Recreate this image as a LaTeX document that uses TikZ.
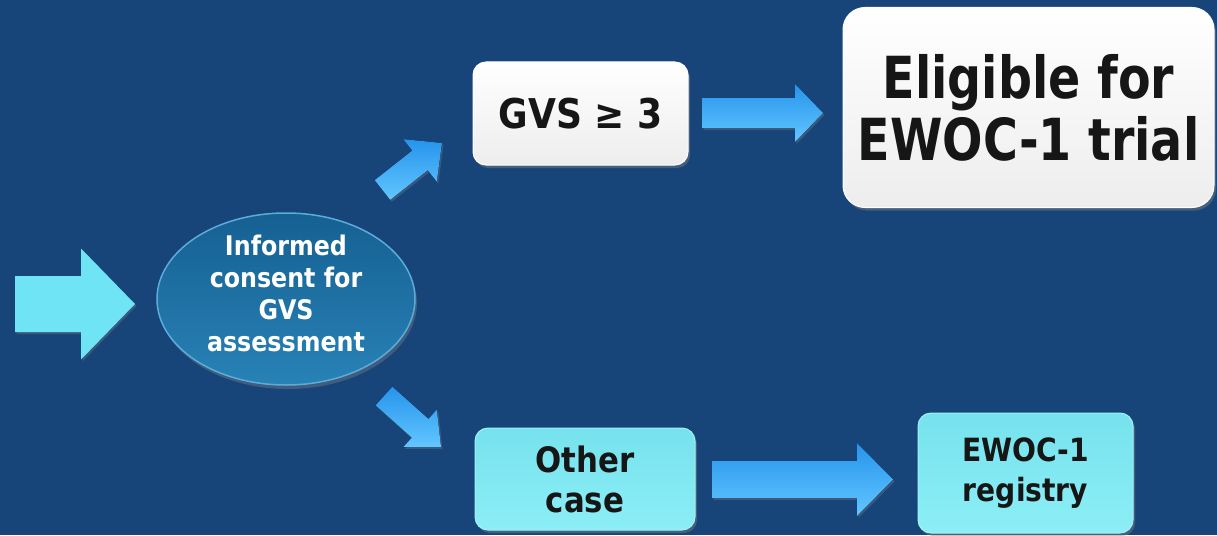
\documentclass[tikz,border=0pt]{standalone}
\usepackage{fontspec}
\setmainfont{DejaVu Sans}[FakeStretch=0.88]
\newfontfamily\elfont{DejaVu Sans}[FakeStretch=0.82]
\usetikzlibrary{shapes.geometric,shadows,calc}
\definecolor{bg}{RGB}{23,69,122}
\definecolor{cyanarrow}{RGB}{110,228,245}
\definecolor{bluetop}{RGB}{38,148,236}
\definecolor{bluebot}{RGB}{98,198,255}
\definecolor{elltop}{RGB}{22,96,146}
\definecolor{ellbot}{RGB}{40,130,182}
\definecolor{ellrim}{RGB}{92,172,218}
\definecolor{cyantop}{RGB}{118,226,237}
\definecolor{cyanbot}{RGB}{140,238,246}
\definecolor{cyanrim}{RGB}{160,242,248}
\definecolor{txt}{RGB}{22,22,22}
\newcommand\myblkarrow[6]{%
  \coordinate (ba-b) at ($(#2)!#5!(#1)$);
  \fill[#6] ($(#1)!#3!90:(#2)$) -- ($(ba-b)!#3!90:(#2)$) -- ($(ba-b)!#4!90:(#2)$) -- (#2)
    -- ($(ba-b)!#4!-90:(#2)$) -- ($(ba-b)!#3!-90:(#2)$) -- ($(#1)!#3!-90:(#2)$) -- cycle;
}
\tikzset{
  wbox/.style={rectangle, rounded corners=13pt, top color=white, bottom color=gray!14,
    draw=white, line width=1pt, drop shadow={opacity=0.45, shadow xshift=2pt, shadow yshift=-3pt},
    text=txt, align=center, inner sep=4pt},
  cbox/.style={rectangle, rounded corners=13pt, top color=cyantop, bottom color=cyanbot,
    draw=cyanrim, line width=1pt, drop shadow={opacity=0.45, shadow xshift=2pt, shadow yshift=-3pt},
    text=txt, align=center, inner sep=4pt},
  bluearrow/.style={top color=bluetop, bottom color=bluebot,
    drop shadow={opacity=0.35, shadow xshift=1.5pt, shadow yshift=-2pt}},
  cyanarr/.style={fill=cyanarrow, drop shadow={opacity=0.35, shadow xshift=1.5pt, shadow yshift=-2pt}},
}
\begin{document}
\begin{tikzpicture}[x=1pt,y=-1pt]
\fill[bg] (0,0) rectangle (1217,535);
\useasboundingbox (0,0) rectangle (1217,535);

% ellipse
\node[ellipse, minimum width=258pt, minimum height=172pt, inner sep=0pt,
  top color=elltop, bottom color=ellbot, draw=ellrim, line width=1.5pt,
  drop shadow={opacity=0.4, shadow xshift=2pt, shadow yshift=-4pt}] (ell) at (286,299) {};
\node[text=white, align=center, font=\bfseries\fontsize{27}{32}\selectfont] (elltxt) at (286,293)
  {Informed\\consent for\\GVS\\assessment};

% boxes
\node[wbox, minimum width=215pt, minimum height=103pt, font=\bfseries\fontsize{41}{48}\selectfont]
  (gvs) at (580.5,113.5) {GVS ≥ 3};
\node[wbox, rounded corners=22pt, minimum width=371pt, minimum height=200pt,
  font=\elfont\bfseries\fontsize{58}{62}\selectfont]
  (elig) at (1028.5,107.5) {Eligible for\\EWOC-1 trial};
\node[cbox, minimum width=220pt, minimum height=102pt, font=\bfseries\fontsize{35}{40}\selectfont]
  (other) at (585,479) {Other\\case};
\node[cbox, minimum width=215pt, minimum height=120pt, font=\bfseries\fontsize{32}{40}\selectfont]
  (reg) at (1025.5,473) {EWOC-1\\registry};

% arrows
\coordinate (a0t) at (15,304);   \coordinate (a0p) at (135,304);
\coordinate (a1t) at (382.5,190); \coordinate (a1p) at (442,143);
\coordinate (a2t) at (384,396);  \coordinate (a2p) at (441,447);
\coordinate (a3t) at (702,113);  \coordinate (a3p) at (823,113);
\coordinate (a4t) at (712,479.5); \coordinate (a4p) at (893,479.5);
\myblkarrow{a0t}{a0p}{28pt}{55.5pt}{54pt}{cyanarr}
\myblkarrow{a1t}{a1p}{12.5pt}{27pt}{28pt}{bluearrow}
\myblkarrow{a2t}{a2p}{12.5pt}{25pt}{28pt}{bluearrow}
\myblkarrow{a3t}{a3p}{15pt}{29pt}{28pt}{bluearrow}
\myblkarrow{a4t}{a4p}{18.5pt}{36.5pt}{36pt}{bluearrow}
\end{tikzpicture}
\end{document}
